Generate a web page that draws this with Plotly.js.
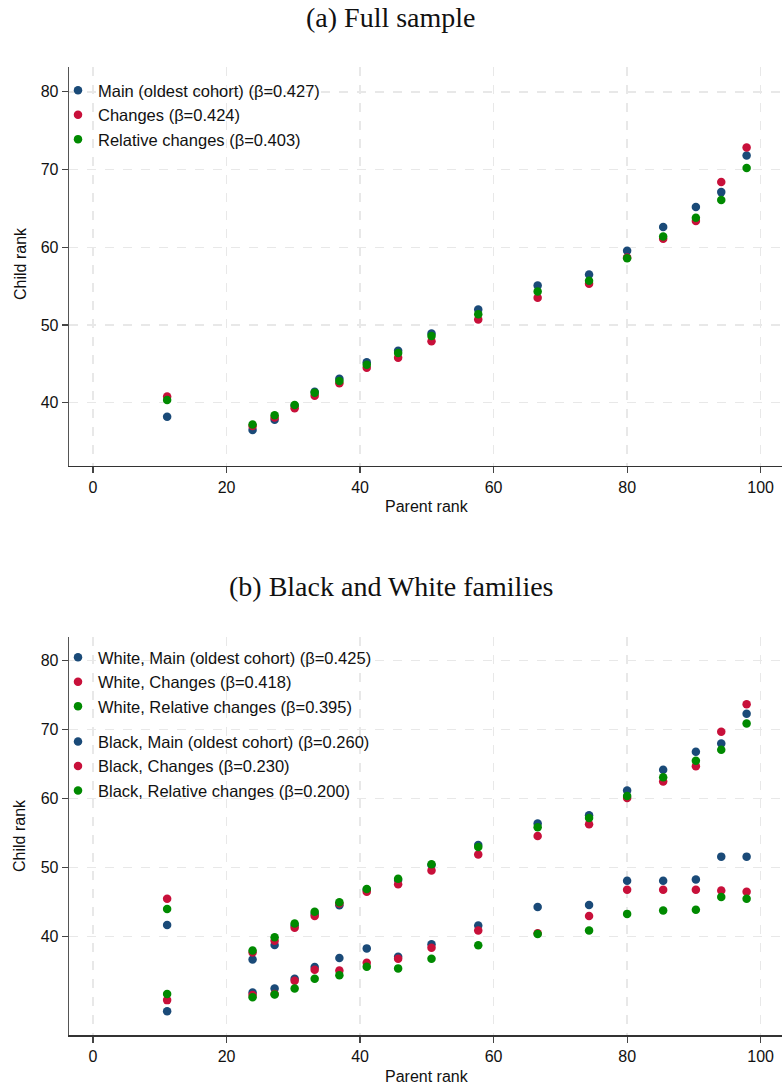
<!DOCTYPE html>
<html><head><meta charset="utf-8">
<script src="https://cdn.plot.ly/plotly-3.0.1.min.js"></script>
<style>body{margin:0;background:#fff}</style>
</head><body><div id="chart" style="width:782px;height:1089px"></div>
<script>
const parentRank = [11.1, 23.9, 27.2, 30.2, 33.2, 36.9, 41.0, 45.7, 50.7, 57.7, 66.6, 74.3, 80.0, 85.4, 90.3, 94.1, 97.9];

const fullMain     = [38.2, 36.5, 37.8, 39.6, 41.4, 43.1, 45.2, 46.7, 48.9, 52.0, 55.1, 56.5, 59.55, 62.6, 65.2, 67.1, 71.8];
const fullChanges  = [40.8, 37.0, 38.1, 39.3, 40.9, 42.5, 44.5, 45.8, 47.9, 50.7, 53.5, 55.3, 58.7, 61.1, 63.4, 68.4, 72.85];
const fullRelative = [40.35, 37.2, 38.4, 39.7, 41.3, 42.8, 44.9, 46.4, 48.6, 51.4, 54.3, 55.7, 58.6, 61.4, 63.8, 66.1, 70.2];

const whiteMain     = [41.7, 36.7, 38.8, 41.6, 43.3, 44.55, 46.8, 48.2, 50.4, 53.3, 56.4, 57.6, 61.2, 64.2, 66.8, 68.0, 72.3];
const whiteChanges  = [45.5, 37.7, 39.4, 41.3, 43.0, 44.8, 46.5, 47.6, 49.6, 51.9, 54.6, 56.3, 60.1, 62.5, 64.7, 69.7, 73.7];
const whiteRelative = [44.0, 38.0, 39.9, 41.9, 43.6, 45.0, 46.9, 48.4, 50.5, 53.0, 55.85, 57.2, 60.4, 63.1, 65.5, 67.1, 70.9];

const blackMain     = [29.2, 31.9, 32.5, 33.9, 35.6, 36.9, 38.3, 37.1, 38.9, 41.6, 44.3, 44.6, 48.1, 48.1, 48.3, 51.6, 51.6];
const blackChanges  = [30.8, 31.55, 31.7, 33.6, 35.2, 35.1, 36.2, 36.8, 38.4, 40.9, 40.5, 43.0, 46.8, 46.8, 46.8, 46.7, 46.5];
const blackRelative = [31.7, 31.2, 31.6, 32.5, 33.9, 34.4, 35.65, 35.4, 36.8, 38.75, 40.4, 40.9, 43.3, 43.8, 43.9, 45.75, 45.5];

const fullNames  = ['Main (oldest cohort) (β=0.427)', 'Changes (β=0.424)', 'Relative changes (β=0.403)'];
const whiteNames = ['White, Main (oldest cohort) (β=0.425)', 'White, Changes (β=0.418)', 'White, Relative changes (β=0.395)'];
const blackNames = ['Black, Main (oldest cohort) (β=0.260)', 'Black, Changes (β=0.230)', 'Black, Relative changes (β=0.200)'];

const xTicks = [0, 20, 40, 60, 80, 100];
const yTicks = [40, 50, 60, 70, 80];

const colors = ['#1a4a78', '#c8103a', '#008a00'];
const H = 1089, W = 782;

function tr(y, name, ci, xa, ya, legend, group) {
  return {
    type: 'scatter', mode: 'markers', x: parentRank, y: y, name: name,
    xaxis: xa, yaxis: ya, legend: legend, legendgroup: group,
    marker: {color: colors[ci], size: 8.5, line: {width: 0}},
    hoverinfo: 'skip'
  };
}

const data = [
  tr(fullMain, fullNames[0], 0, 'x', 'y', 'legend', 'f'),
  tr(fullChanges, fullNames[1], 1, 'x', 'y', 'legend', 'f'),
  tr(fullRelative, fullNames[2], 2, 'x', 'y', 'legend', 'f'),
  tr(whiteMain, whiteNames[0], 0, 'x2', 'y2', 'legend2', 'w'),
  tr(whiteChanges, whiteNames[1], 1, 'x2', 'y2', 'legend2', 'w'),
  tr(whiteRelative, whiteNames[2], 2, 'x2', 'y2', 'legend2', 'w'),
  tr(blackMain, blackNames[0], 0, 'x2', 'y2', 'legend2', 'b'),
  tr(blackChanges, blackNames[1], 1, 'x2', 'y2', 'legend2', 'b'),
  tr(blackRelative, blackNames[2], 2, 'x2', 'y2', 'legend2', 'b')
];

const sans = 'Liberation Sans Narrow, Liberation Sans, Arial, sans-serif';
const tickFont = {family: sans, size: 16, color: '#111'};
function xax(anchor, dom) {
  return {
    domain: dom, anchor: anchor, range: [-3.6, 103.2], tickvals: xTicks,
    showgrid: true, gridcolor: '#e8e8e8', griddash: 'dash', gridwidth: 1.3,
    zeroline: false, showline: true, linecolor: '#333', linewidth: 1.3,
    ticks: 'outside', ticklen: 6, tickcolor: '#444', tickwidth: 1.2,
    tickfont: tickFont, fixedrange: true
  };
}
function yax(anchor, dom, range) {
  return {
    domain: dom, anchor: anchor, range: range, tickvals: yTicks,
    showgrid: true, gridcolor: '#e8e8e8', griddash: 'dash', gridwidth: 1.3,
    zeroline: false, showline: true, linecolor: '#555', linewidth: 1.3,
    ticks: 'outside', ticklen: 6, tickcolor: '#444', tickwidth: 1.2,
    tickfont: tickFont, fixedrange: true
  };
}
const xd = [69 / W, 1];
const legFont = {family: 'Liberation Sans, Arial, sans-serif', size: 16.5, color: '#111'};
function ann(text, xpx, ypx, font, angle) {
  return {text: text, x: xpx / W, y: 1 - ypx / H, xref: 'paper', yref: 'paper', showarrow: false,
    xanchor: 'center', yanchor: 'middle', textangle: angle || 0, font: font};
}
const titleFont = {family: 'Liberation Serif, DejaVu Serif, serif', size: 28, color: '#111'};
const labFont = {family: sans, size: 16, color: '#111'};
const layout = {
  width: W, height: H, margin: {l: 0, r: 0, t: 0, b: 0},
  paper_bgcolor: '#fff', plot_bgcolor: '#fff',
  showlegend: true,
  xaxis: xax('y', xd),
  yaxis: yax('x', [1 - 466 / H, 1 - 67 / H], [31.86, 83.2]),
  xaxis2: xax('y2', xd),
  yaxis2: yax('x2', [1 - 1035.3 / H, 1 - 636.7 / H], [25.7, 83.48]),
  legend: {x: 58 / W, y: 1 - 73 / H, xanchor: 'left', yanchor: 'top', bgcolor: 'rgba(0,0,0,0)',
    font: legFont, itemwidth: 30},
  legend2: {x: 58 / W, y: 1 - 640 / H, xanchor: 'left', yanchor: 'top', bgcolor: 'rgba(0,0,0,0)',
    traceorder: 'grouped', tracegroupgap: 11, font: legFont, itemwidth: 30},
  annotations: [
    ann('(a) Full sample', 391, 17, titleFont),
    ann('(b) Black and White families', 391, 586, titleFont),
    ann('Parent rank', 427, 507, labFont),
    ann('Parent rank', 427, 1076, labFont),
    ann('Child rank', 20, 264, labFont, -90),
    ann('Child rank', 20, 836, labFont, -90)
  ]
};
Plotly.newPlot('chart', data, layout, {staticPlot: true, displayModeBar: false});
</script></body></html>
